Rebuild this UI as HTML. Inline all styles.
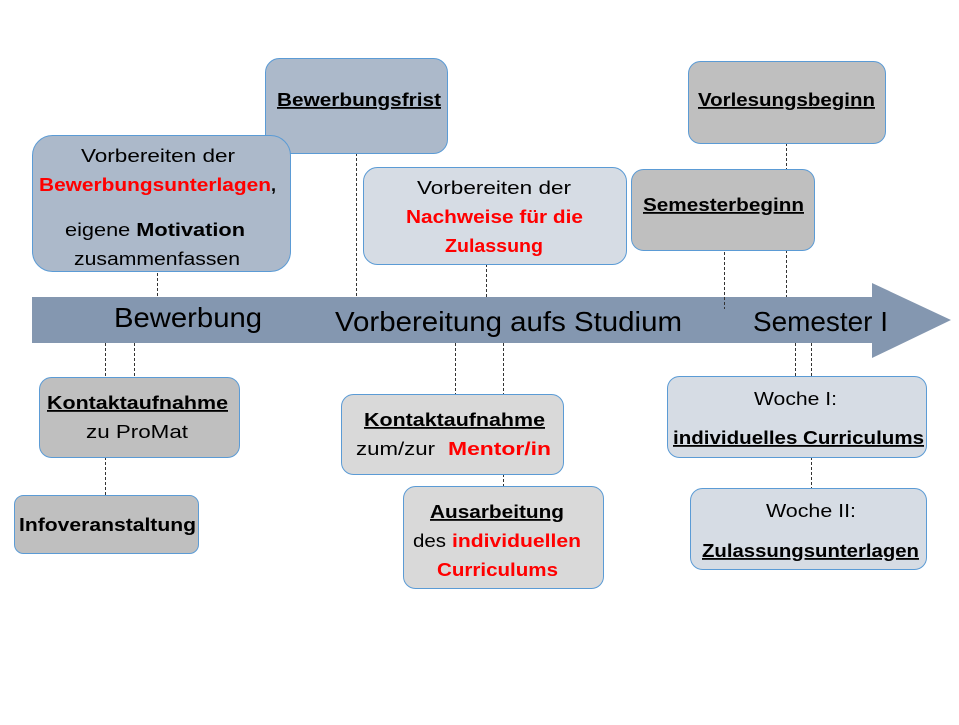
<!DOCTYPE html>
<html><head><meta charset="utf-8"><style>
html,body{margin:0;padding:0;background:#fff;}
svg text{font-family:"Liberation Sans",sans-serif;}
</style></head><body>
<svg width="959" height="720" viewBox="0 0 959 720" xmlns="http://www.w3.org/2000/svg">
<g stroke="#333" stroke-width="1" stroke-dasharray="3,2" fill="none">
<line x1="157.5" y1="268" x2="157.5" y2="297"/>
<line x1="356.5" y1="153" x2="356.5" y2="297"/>
<line x1="486.5" y1="264" x2="486.5" y2="297"/>
<line x1="786.5" y1="143" x2="786.5" y2="169"/>
<line x1="786.5" y1="250" x2="786.5" y2="297"/>
<line x1="105.5" y1="343" x2="105.5" y2="377"/>
<line x1="134.5" y1="343" x2="134.5" y2="377"/>
<line x1="105.5" y1="457" x2="105.5" y2="495"/>
<line x1="455.5" y1="343" x2="455.5" y2="394"/>
<line x1="503.5" y1="343" x2="503.5" y2="394"/>
<line x1="503.5" y1="474" x2="503.5" y2="486"/>
<line x1="795.5" y1="343" x2="795.5" y2="376"/>
<line x1="811.5" y1="343" x2="811.5" y2="376"/>
<line x1="811.5" y1="457" x2="811.5" y2="488"/>
</g>
<polygon points="32,297 872,297 872,283 951,320 872,358 872,343 32,343" fill="#8497b0"/>
<line x1="724.5" y1="252" x2="724.5" y2="309" stroke="#333" stroke-dasharray="3,2"/>
<g font-size="28" fill="#000">
<text x="114" y="327" textLength="148" lengthAdjust="spacingAndGlyphs">Bewerbung</text>
<text x="335" y="331" textLength="347" lengthAdjust="spacingAndGlyphs">Vorbereitung aufs Studium</text>
<text x="753" y="331" textLength="135" lengthAdjust="spacingAndGlyphs">Semester I</text>
</g>
<g stroke="#5b9bd5" stroke-width="1">
<rect x="265.5" y="58.5" width="182" height="95" rx="14" fill="#acb9ca"/>
<rect x="32.5" y="135.5" width="258" height="136" rx="20" fill="#acb9ca"/>
<rect x="363.5" y="167.5" width="263" height="97" rx="14" fill="#d6dce4"/>
<rect x="688.5" y="61.5" width="197" height="82" rx="12" fill="#bfbfbf"/>
<rect x="631.5" y="169.5" width="183" height="81" rx="12" fill="#bfbfbf"/>
<rect x="39.5" y="377.5" width="200" height="80" rx="12" fill="#bfbfbf"/>
<rect x="14.5" y="495.5" width="184" height="58" rx="9" fill="#bfbfbf"/>
<rect x="341.5" y="394.5" width="222" height="80" rx="12" fill="#d9d9d9"/>
<rect x="403.5" y="486.5" width="200" height="102" rx="12" fill="#d9d9d9"/>
<rect x="667.5" y="376.5" width="259" height="81" rx="12" fill="#d6dce4"/>
<rect x="690.5" y="488.5" width="236" height="81" rx="12" fill="#d6dce4"/>
</g>
<g font-size="18" fill="#000">
<text x="277" y="106" font-weight="bold" text-decoration="underline" textLength="164" lengthAdjust="spacingAndGlyphs">Bewerbungsfrist</text>
<text x="81" y="162" textLength="154" lengthAdjust="spacingAndGlyphs">Vorbereiten der</text>
<text x="39" y="191" font-weight="bold" fill="#ff0000" textLength="232" lengthAdjust="spacingAndGlyphs">Bewerbungsunterlagen</text>
<text x="271" y="191" font-weight="bold">,</text>
<text x="65" y="236" textLength="180" lengthAdjust="spacingAndGlyphs">eigene <tspan font-weight="bold">Motivation</tspan></text>
<text x="74" y="265" textLength="166" lengthAdjust="spacingAndGlyphs">zusammenfassen</text>
<text x="417" y="194" textLength="154" lengthAdjust="spacingAndGlyphs">Vorbereiten der</text>
<text x="406" y="223" font-weight="bold" fill="#ff0000" textLength="177" lengthAdjust="spacingAndGlyphs">Nachweise für die</text>
<text x="445" y="252" font-weight="bold" fill="#ff0000" textLength="98" lengthAdjust="spacingAndGlyphs">Zulassung</text>
<text x="698" y="106" font-weight="bold" text-decoration="underline" textLength="177" lengthAdjust="spacingAndGlyphs">Vorlesungsbeginn</text>
<text x="643" y="211" font-weight="bold" text-decoration="underline" textLength="161" lengthAdjust="spacingAndGlyphs">Semesterbeginn</text>
<text x="47" y="409" font-weight="bold" text-decoration="underline" textLength="181" lengthAdjust="spacingAndGlyphs">Kontaktaufnahme</text>
<text x="86" y="438" textLength="102" lengthAdjust="spacingAndGlyphs">zu ProMat</text>
<text x="19" y="531" font-weight="bold" textLength="177" lengthAdjust="spacingAndGlyphs">Infoveranstaltung</text>
<text x="364" y="426" font-weight="bold" text-decoration="underline" textLength="181" lengthAdjust="spacingAndGlyphs">Kontaktaufnahme</text>
<text x="356" y="455" textLength="79" lengthAdjust="spacingAndGlyphs">zum/zur</text>
<text x="448" y="455" font-weight="bold" fill="#ff0000" textLength="103" lengthAdjust="spacingAndGlyphs">Mentor/in</text>
<text x="430" y="518" font-weight="bold" text-decoration="underline" textLength="134" lengthAdjust="spacingAndGlyphs">Ausarbeitung</text>
<text x="413" y="547" textLength="33" lengthAdjust="spacingAndGlyphs">des</text>
<text x="452" y="547" font-weight="bold" fill="#ff0000" textLength="129" lengthAdjust="spacingAndGlyphs">individuellen</text>
<text x="437" y="576" font-weight="bold" fill="#ff0000" textLength="121" lengthAdjust="spacingAndGlyphs">Curriculums</text>
<text x="754" y="405" textLength="83" lengthAdjust="spacingAndGlyphs">Woche I:</text>
<text x="673" y="444" font-weight="bold" text-decoration="underline" textLength="251" lengthAdjust="spacingAndGlyphs">individuelles Curriculums</text>
<text x="766" y="517" textLength="90" lengthAdjust="spacingAndGlyphs">Woche II:</text>
<text x="702" y="557" font-weight="bold" text-decoration="underline" textLength="217" lengthAdjust="spacingAndGlyphs">Zulassungsunterlagen</text>
</g>
</svg>
</body></html>
